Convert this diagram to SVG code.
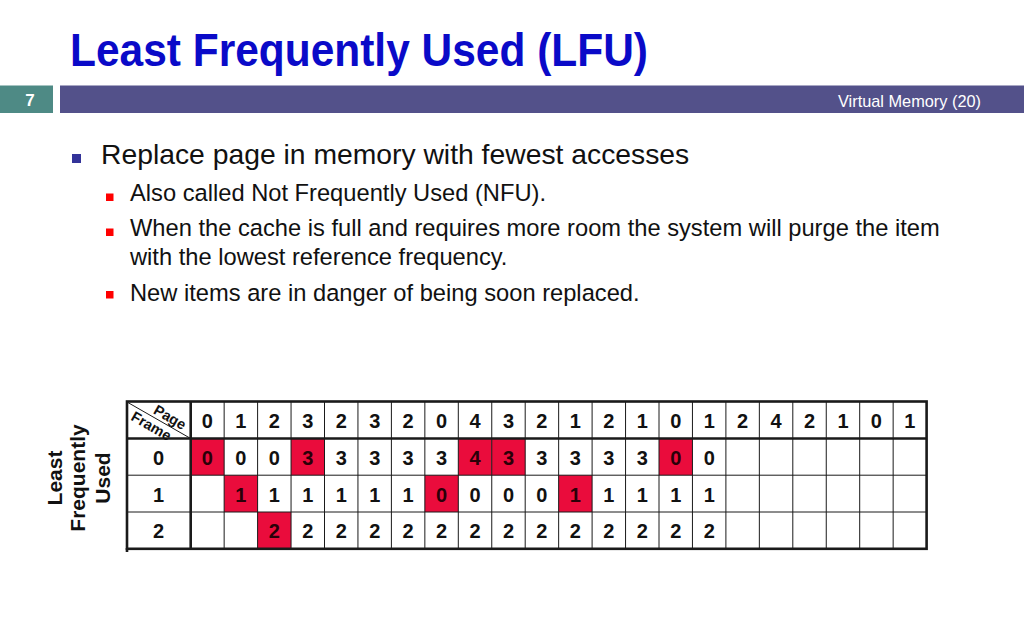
<svg xmlns="http://www.w3.org/2000/svg" width="1024" height="640" viewBox="0 0 1024 640">
<style>
.t{font-family:"Liberation Sans",Arial,sans-serif}
.title{font-family:"Liberation Sans",Arial,sans-serif;font-weight:bold;font-size:47px;fill:#0a0ac8}
.l1{font-family:"Liberation Sans",Arial,sans-serif;font-size:28.3px;fill:#111}
.l2{font-family:"Liberation Sans",Arial,sans-serif;font-size:23.7px;fill:#111}
.d{font-family:"Liberation Sans",Arial,sans-serif;font-weight:bold;font-size:20px;fill:#111;text-anchor:middle}
.dr{fill:#2a0008}
.red{fill:#ea0c3c}
.thin{stroke:#1a1a1a;stroke-width:1;fill:none}
.thick{stroke:#1a1a1a;stroke-width:2.6;fill:none}
.lab{font-family:"Liberation Sans",Arial,sans-serif;font-weight:bold;font-size:21px;fill:#111;text-anchor:middle}
.corner{font-family:"Liberation Sans",Arial,sans-serif;font-size:14.5px;font-weight:bold;fill:#111}
</style>
<rect width="1024" height="640" fill="#fff"/>
<g id="title">
<text class="title" x="70" y="66" textLength="578" lengthAdjust="spacingAndGlyphs">Least Frequently Used (LFU)</text>
</g>
<g id="header-bar">
<rect x="0" y="85.5" width="53" height="27.5" fill="#4e8a85"/>
<rect x="60" y="85.5" width="964" height="27.5" fill="#53518a"/>
<text class="t" x="30" y="105.5" font-size="17" font-weight="bold" fill="#fff" text-anchor="middle">7</text>
<text class="t" x="838" y="106.5" font-size="17" fill="#fff" textLength="143" lengthAdjust="spacingAndGlyphs">Virtual Memory (20)</text>
</g>
<g id="bullets">
<rect x="72" y="154" width="9" height="9" fill="#333399"/>
<text class="l1" x="101" y="164">Replace page in memory with fewest accesses</text>
<rect x="106" y="193.5" width="7.5" height="7.5" fill="#f00"/>
<text class="l2" x="130" y="201">Also called Not Frequently Used (NFU).</text>
<rect x="106" y="228.5" width="7.5" height="7.5" fill="#f00"/>
<text class="l2" x="130" y="236">When the cache is full and requires more room the system will purge the item</text>
<text class="l2" x="130" y="265">with the lowest reference frequency.</text>
<rect x="106" y="291" width="7.5" height="7.5" fill="#f00"/>
<text class="l2" x="130" y="300.5">New items are in danger of being soon replaced.</text>
</g>
<g id="side-label">
<text class="lab" transform="translate(62,478) rotate(-90)">Least</text>
<text class="lab" transform="translate(85,478) rotate(-90)">Frequently</text>
<text class="lab" transform="translate(109.5,478) rotate(-90)">Used</text>
</g>
<g id="table">
<g id="red-cells">
<rect class="red" x="190.7" y="438.5" width="33.45" height="36.7"/>
<rect class="red" x="291.05" y="438.5" width="33.45" height="36.7"/>
<rect class="red" x="458.3" y="438.5" width="33.45" height="36.7"/>
<rect class="red" x="491.75" y="438.5" width="33.45" height="36.7"/>
<rect class="red" x="659" y="438.5" width="33.45" height="36.7"/>
<rect class="red" x="224.15" y="475.2" width="33.45" height="36.8"/>
<rect class="red" x="424.85" y="475.2" width="33.45" height="36.8"/>
<rect class="red" x="558.65" y="475.2" width="33.45" height="36.8"/>
<rect class="red" x="257.6" y="512" width="33.45" height="36.8"/>
</g>
<g id="grid">
<path class="thin" d="M224.15 401.5V548.8M257.6 401.5V548.8M291.05 401.5V548.8M324.5 401.5V548.8M357.95 401.5V548.8M391.4 401.5V548.8M424.85 401.5V548.8M458.3 401.5V548.8M491.75 401.5V548.8M525.2 401.5V548.8M558.65 401.5V548.8M592.1 401.5V548.8M625.55 401.5V548.8M659 401.5V548.8M692.45 401.5V548.8M725.9 401.5V548.8M759.35 401.5V548.8M792.8 401.5V548.8M826.25 401.5V548.8M859.7 401.5V548.8M893.15 401.5V548.8M127 475.2H926.6M127 512H926.6M127 402L190.7 438.5"/>
<path class="thick" d="M127 438.5H926.6M190.7 401.5V548.8"/>
<rect class="thick" x="127" y="401.5" width="799.6" height="147.3"/>
<path class="thick" d="M127 548V552"/>
</g>
<g id="corner">
<text class="corner" transform="translate(152.5,413) rotate(30)">Page</text>
<text class="corner" transform="translate(130,419.5) rotate(30)">Frame</text>
</g>
<g id="page-row">
<text class="d" x="207.4" y="428">0</text><text class="d" x="240.9" y="428">1</text><text class="d" x="274.3" y="428">2</text><text class="d" x="307.8" y="428">3</text><text class="d" x="341.2" y="428">2</text><text class="d" x="374.7" y="428">3</text><text class="d" x="408.1" y="428">2</text><text class="d" x="441.6" y="428">0</text><text class="d" x="475" y="428">4</text><text class="d" x="508.5" y="428">3</text><text class="d" x="541.9" y="428">2</text><text class="d" x="575.4" y="428">1</text><text class="d" x="608.8" y="428">2</text><text class="d" x="642.3" y="428">1</text><text class="d" x="675.7" y="428">0</text><text class="d" x="709.2" y="428">1</text><text class="d" x="742.6" y="428">2</text><text class="d" x="776.1" y="428">4</text><text class="d" x="809.5" y="428">2</text><text class="d" x="843" y="428">1</text><text class="d" x="876.4" y="428">0</text><text class="d" x="909.9" y="428">1</text>
</g>
<g id="frame-labels">
<text class="d" x="158.5" y="464.5">0</text><text class="d" x="158.5" y="501.5">1</text><text class="d" x="158.5" y="538">2</text>
</g>
<g id="frame-0">
<text class="d dr" x="207.4" y="464.5">0</text><text class="d" x="240.9" y="464.5">0</text><text class="d" x="274.3" y="464.5">0</text><text class="d dr" x="307.8" y="464.5">3</text><text class="d" x="341.2" y="464.5">3</text><text class="d" x="374.7" y="464.5">3</text><text class="d" x="408.1" y="464.5">3</text><text class="d" x="441.6" y="464.5">3</text><text class="d dr" x="475" y="464.5">4</text><text class="d dr" x="508.5" y="464.5">3</text><text class="d" x="541.9" y="464.5">3</text><text class="d" x="575.4" y="464.5">3</text><text class="d" x="608.8" y="464.5">3</text><text class="d" x="642.3" y="464.5">3</text><text class="d dr" x="675.7" y="464.5">0</text><text class="d" x="709.2" y="464.5">0</text>
</g>
<g id="frame-1">
<text class="d dr" x="240.9" y="501.5">1</text><text class="d" x="274.3" y="501.5">1</text><text class="d" x="307.8" y="501.5">1</text><text class="d" x="341.2" y="501.5">1</text><text class="d" x="374.7" y="501.5">1</text><text class="d" x="408.1" y="501.5">1</text><text class="d dr" x="441.6" y="501.5">0</text><text class="d" x="475" y="501.5">0</text><text class="d" x="508.5" y="501.5">0</text><text class="d" x="541.9" y="501.5">0</text><text class="d dr" x="575.4" y="501.5">1</text><text class="d" x="608.8" y="501.5">1</text><text class="d" x="642.3" y="501.5">1</text><text class="d" x="675.7" y="501.5">1</text><text class="d" x="709.2" y="501.5">1</text>
</g>
<g id="frame-2">
<text class="d dr" x="274.3" y="538">2</text><text class="d" x="307.8" y="538">2</text><text class="d" x="341.2" y="538">2</text><text class="d" x="374.7" y="538">2</text><text class="d" x="408.1" y="538">2</text><text class="d" x="441.6" y="538">2</text><text class="d" x="475" y="538">2</text><text class="d" x="508.5" y="538">2</text><text class="d" x="541.9" y="538">2</text><text class="d" x="575.4" y="538">2</text><text class="d" x="608.8" y="538">2</text><text class="d" x="642.3" y="538">2</text><text class="d" x="675.7" y="538">2</text><text class="d" x="709.2" y="538">2</text>
</g>
</g>
</svg>
